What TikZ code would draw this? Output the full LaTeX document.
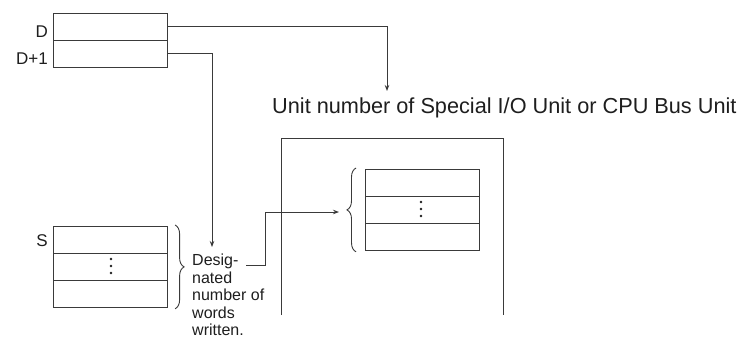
\documentclass[tikz,border=0pt]{standalone}
\usepackage{fontspec}
\setmainfont{Liberation Sans}
\usetikzlibrary{decorations.pathreplacing,arrows.meta,calc}
\definecolor{linec}{HTML}{3A3A3A}
\definecolor{textc}{HTML}{1E1E1E}
\begin{document}
\begin{tikzpicture}[x=1pt,y=-1pt,
  cell/.style={draw=linec, line width=1.1pt, minimum width=114pt, minimum height=26.7pt, inner sep=0pt, anchor=north west},
  conn/.style={draw=linec, line width=0.9pt},
  arr/.style={conn, -{Stealth[length=6pt,width=4.5pt]}},
  lbl/.style={text=textc, font=\fontsize{17}{19}\selectfont, inner sep=0pt},
  bigl/.style={text=textc, font=\fontsize{21.7}{24}\selectfont, inner sep=0pt},
  note/.style={text=textc, font=\fontsize{16}{17.5}\selectfont, inner sep=0pt, align=left},
  brc/.style={draw=linec, line width=0.9pt, decorate, decoration={brace, amplitude=9pt}},
  dotc/.style={fill=textc, draw=none, circle, inner sep=0pt, minimum size=2.6pt}]
\useasboundingbox (0,0) rectangle (743,338);

% D / D+1 words
\node[cell] (d0) at (53,13) {};
\node[cell] (d1) at (53,40) {};
\node[lbl, anchor=base east] (ld0) at (48,37) {D};
\node[lbl, anchor=base east] (ld1) at (48,64) {D+1};

% S words
\node[cell] (s0) at (53,226) {};
\node[cell] (s1) at (53,253) {};
\node[cell] (s2) at (53,280) {};
\node[lbl, anchor=base east] (ls) at (48,246) {S};
\node[dotc] (sd1) at (111,259) {};
\node[dotc] (sd2) at (111,266) {};
\node[dotc] (sd3) at (111,273) {};

% unit label
\node[bigl, anchor=base west] (unit) at (272,113) {Unit number of Special I/O Unit or CPU Bus Unit};
\coordinate (ut) at (387,91);

% big unit box
\coordinate (bl) at (281,315);
\coordinate (br) at (503,315);
\draw[conn, line width=1pt] (bl) |- (503,138) -- (br);

% inner words
\node[cell] (i0) at (365,169) {};
\node[cell] (i1) at (365,196) {};
\node[cell] (i2) at (365,223) {};
\node[dotc] (id1) at (421,202) {};
\node[dotc] (id2) at (421,209) {};
\node[dotc] (id3) at (421,216) {};

% braces
\draw[brc] ($(s0.north east)+(7,-1)$) coordinate (sb1) -- ($(s2.south east)+(7,1)$) coordinate (sb2);
\draw[brc] ($(i2.south west)+(-9,1)$) coordinate (ib2) -- ($(i0.north west)+(-9,-1)$) coordinate (ib1);

% note text
\node[note, anchor=north west] (note) at (192,254) {Desig-\\nated\\number of\\words\\written.};
\coordinate (ns) at (246,265);
\coordinate (ia) at (339,212);

% connectors
\draw[arr] (d0.east) -| (ut);
\coordinate (da) at (212,247);
\draw[arr] (d1.east) -| (da);
\draw[arr] (ns) -- (265,265) |- (ia);
\end{tikzpicture}
\end{document}
